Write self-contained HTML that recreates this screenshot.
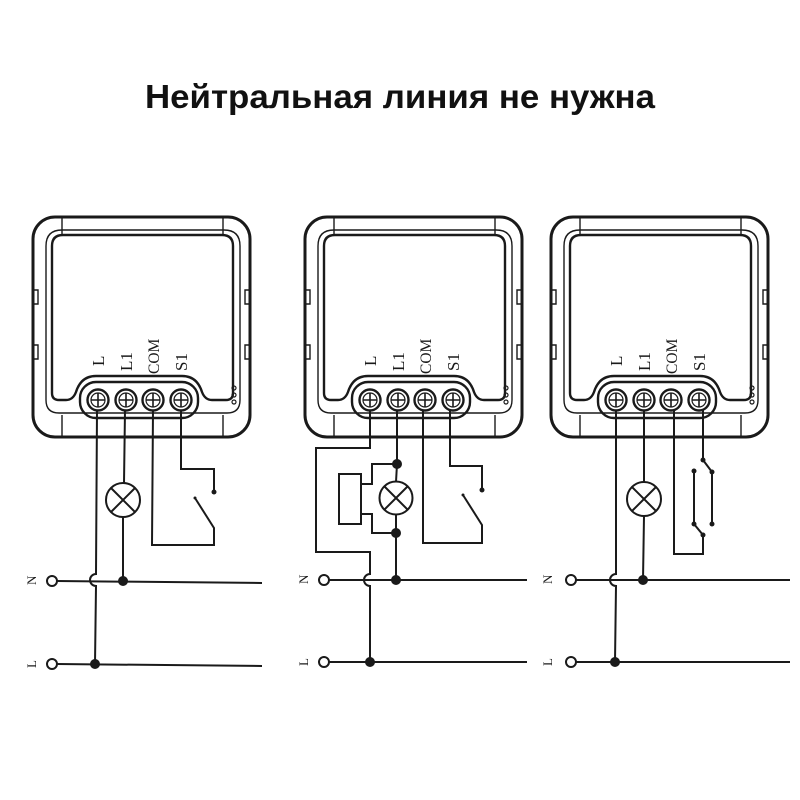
<!DOCTYPE html>
<html><head><meta charset="utf-8"><style>
html,body{margin:0;padding:0;background:#fff}
svg{display:block}
</style></head><body>
<svg width="800" height="800" viewBox="0 0 800 800" xmlns="http://www.w3.org/2000/svg">
<defs>
<g id="mod" fill="none" stroke="#1a1a1a" stroke-width="2.2">
  <rect x="33" y="217" width="217" height="220" rx="22" stroke-width="3"/>
  <line x1="62" y1="217" x2="62" y2="236" stroke-width="1.4"/>
  <line x1="223" y1="217" x2="223" y2="236" stroke-width="1.4"/>
  <line x1="62" y1="415" x2="62" y2="437" stroke-width="1.4"/>
  <line x1="223" y1="415" x2="223" y2="437" stroke-width="1.4"/>
  <path d="M52,393 L52,246 Q52,235 63,235 L222,235 Q233,235 233,246 L233,393 Q233,400 226,400 L212,400 Q205,400 202,392 Q197,376 182,376 L96,376 Q81,376 76,392 Q73,400 66,400 L59,400 Q52,400 52,393 Z" stroke-width="2.4"/>
  <path d="M46,400 L46,246 Q46,230 62,230 L224,230 Q240,230 240,246 L240,400 Q240,413 227,413 L59,413 Q46,413 46,400 Z" stroke-width="1.4"/>
  <rect x="80" y="382" width="118" height="36" rx="16" stroke-width="2.4"/>
  <path d="M33,290 h5 v14 h-5 M33,345 h5 v14 h-5 M250,290 h-5 v14 h5 M250,345 h-5 v14 h5" stroke-width="1.4"/>
  <g stroke-width="1.2"><circle cx="234" cy="388" r="2"/><circle cx="234" cy="395" r="2"/><circle cx="234" cy="402" r="2"/></g>
  <g>
    <circle cx="98" cy="400" r="10.5" stroke-width="2.4"/><circle cx="98" cy="400" r="7" stroke-width="1.2"/><path d="M91,400h14M98,393v14" stroke-width="1.6"/>
    <circle cx="126" cy="400" r="10.5" stroke-width="2.4"/><circle cx="126" cy="400" r="7" stroke-width="1.2"/><path d="M119,400h14M126,393v14" stroke-width="1.6"/>
    <circle cx="153" cy="400" r="10.5" stroke-width="2.4"/><circle cx="153" cy="400" r="7" stroke-width="1.2"/><path d="M146,400h14M153,393v14" stroke-width="1.6"/>
    <circle cx="181" cy="400" r="10.5" stroke-width="2.4"/><circle cx="181" cy="400" r="7" stroke-width="1.2"/><path d="M174,400h14M181,393v14" stroke-width="1.6"/>
  </g>
  <g fill="#1a1a1a" stroke="none" font-family="Liberation Serif, serif" font-size="17">
    <text transform="translate(104,366) rotate(-90)">L</text>
    <text transform="translate(132,371) rotate(-90)">L1</text>
    <text transform="translate(159,374) rotate(-90)" font-size="15.5">COM</text>
    <text transform="translate(187,371) rotate(-90)">S1</text>
  </g>
</g>
</defs>
<text x="400" y="108" text-anchor="middle" font-family="Liberation Sans, sans-serif" font-weight="bold" font-size="33" fill="#111" textLength="510" lengthAdjust="spacingAndGlyphs">Нейтральная линия не нужна</text>

<use href="#mod"/>
<use href="#mod" transform="translate(272,0)"/>
<use href="#mod" transform="translate(518,0)"/>

<g fill="none" stroke="#1a1a1a" stroke-width="2">
  <line x1="57" y1="581" x2="262" y2="583"/><line x1="57" y1="664" x2="262" y2="666"/>
  <line x1="329" y1="580" x2="527" y2="580"/><line x1="329" y1="662" x2="527" y2="662"/>
  <line x1="576" y1="580" x2="790" y2="580"/><line x1="576" y1="662" x2="790" y2="662"/>
  <circle cx="52" cy="581" r="5"/><circle cx="52" cy="664" r="5"/>
  <circle cx="324" cy="580" r="5"/><circle cx="324" cy="662" r="5"/>
  <circle cx="571" cy="580" r="5"/><circle cx="571" cy="662" r="5"/>

  <path d="M97,410 L96,574 A6,6 0 0 0 96,586 L95,664"/>
  <path d="M125,410 L124,483 M123,517 L123,581"/>
  <circle cx="123" cy="500" r="17"/><path d="M111,488 L135,512 M135,488 L111,512"/>
  <path d="M153,410 L152,545 L214,545 L214,528 L195,498"/>
  <path d="M181,410 L181,469 L214,469 L214,492"/>

  <path d="M370,410 L370,448 L316,448 L316,552 L370,552 L370,574 A6,6 0 0 0 370,586 L370,662"/>
  <path d="M397,410 L397,464 L396,482 M396,514 L396,580"/>
  <circle cx="396" cy="498" r="16.5"/><path d="M384,486 L408,510 M408,486 L384,510"/>
  <path d="M396,464 L372,464 L372,484 L361,484 M361,514 L372,514 L372,533 L396,533"/>
  <rect x="339" y="474" width="22" height="50"/>
  <path d="M423,410 L423,543 L482,543 L482,525 L463,495"/>
  <path d="M450,410 L450,466 L482,466 L482,490"/>

  <path d="M616,410 L616,574 A6,6 0 0 0 616,586 L615,662"/>
  <path d="M644,410 L644,482 M644,516 L643,580"/>
  <circle cx="644" cy="499" r="17"/><path d="M632,487 L656,511 M656,487 L632,511"/>
  <path d="M674,410 L674,554 L703,554 L703,535 L694,524 L694,471"/>
  <path d="M703,410 L703,460 L712,472 L712,524"/>
</g>
<g fill="#1a1a1a">
  <circle cx="123" cy="581" r="5"/><circle cx="95" cy="664" r="5"/>
  <circle cx="214" cy="492" r="2.5"/><circle cx="195" cy="498" r="1.5"/>
  <circle cx="397" cy="464" r="5"/><circle cx="396" cy="533" r="5"/><circle cx="396" cy="580" r="5"/><circle cx="370" cy="662" r="5"/>
  <circle cx="482" cy="490" r="2.5"/><circle cx="463" cy="495" r="1.5"/>
  <circle cx="643" cy="580" r="5"/><circle cx="615" cy="662" r="5"/>
  <circle cx="703" cy="460" r="2.5"/><circle cx="712" cy="472" r="2.5"/><circle cx="694" cy="471" r="2.5"/>
  <circle cx="694" cy="524" r="2.5"/><circle cx="712" cy="524" r="2.5"/><circle cx="703" cy="535" r="2.5"/>
</g>
<g fill="#1a1a1a" font-family="Liberation Serif, serif" font-size="13">
  <text transform="translate(36,585) rotate(-90)">N</text><text transform="translate(36,668) rotate(-90)">L</text>
  <text transform="translate(308,584) rotate(-90)">N</text><text transform="translate(308,666) rotate(-90)">L</text>
  <text transform="translate(552,584) rotate(-90)">N</text><text transform="translate(552,666) rotate(-90)">L</text>
</g>
</svg>
</body></html>
